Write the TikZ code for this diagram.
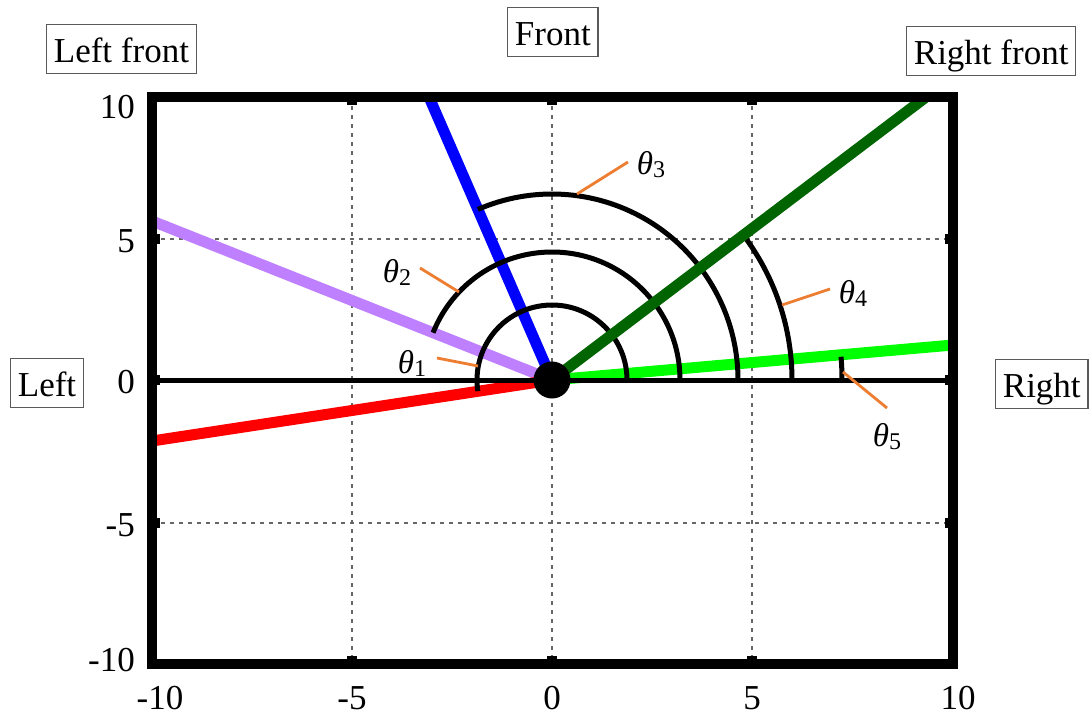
\documentclass[tikz,border=0pt]{standalone}
\usepackage{fontspec}
\setmainfont{Liberation Serif}
\definecolor{lav}{RGB}{191,128,255}
\definecolor{dgreen}{RGB}{0,100,0}
\definecolor{bgreen}{RGB}{0,255,0}
\definecolor{lead}{RGB}{237,125,49}
\definecolor{boxgray}{RGB}{90,90,90}
\newcommand{\thlab}[1]{{\fontsize{33}{35}\selectfont\itshape θ}{\fontsize{24}{26}\selectfont\raisebox{-3pt}{#1}}}
\begin{document}
\begin{tikzpicture}[x=1pt,y=-1pt,
  dirbox/.style={draw=boxgray,line width=1.2pt,fill=white,font=\fontsize{35}{40}\selectfont,
     inner xsep=7.3pt,inner ysep=0pt,text height=38pt,text depth=11pt,anchor=north west},
  ticklab/.style={font=\fontsize{35}{38}\selectfont,inner sep=0pt},
  gridline/.style={draw=black!60,line width=1.4pt,dash pattern=on 4pt off 5pt},
  ray/.style={line width=11pt},
  arcline/.style={line width=5pt,draw=black},
  leader/.style={draw=lead,line width=2.8pt},
  tickmark/.style={line width=10pt,draw=black},
  thetalab/.style={inner sep=0pt}]
\useasboundingbox (0,0) rectangle (1090,717);

% grid
\foreach \gx in {352,552,752} {\draw[gridline] (\gx,97) -- (\gx,664);}
\foreach \gy in {239,523} {\draw[gridline] (152,\gy) -- (953,\gy);}

% coordinates
\coordinate (O) at (552,380);
\coordinate (redend) at (152,441);
\coordinate (lavend) at (152,221);
\coordinate (blueend) at (429,97);
\coordinate (dgend) at (926,97);
\coordinate (bgend) at (953,345);
\coordinate (axL) at (152,380);
\coordinate (axR) at (953,380);

% rays
\draw[ray,draw=lav] (O) -- (lavend);
\draw[ray,draw=red] (O) -- (redend);
\draw[ray,draw=blue] (O) -- (blueend);
\draw[ray,draw=bgreen] (O) -- (bgend);
\draw[line width=5pt] (axL) -- (axR);

% arcs
\draw[arcline] (O) ++(75,0) arc[start angle=0,end angle=188.5,radius=75pt];
\draw[arcline] (O) ++(128,0) arc[start angle=0,end angle=158.3,radius=128pt];
\draw[arcline] (O) ++(186,0) arc[start angle=0,end angle=113.5,radius=186pt];
\draw[arcline] (O) ++(240,0) arc[start angle=0,end angle=36.5,radius=240pt];
\draw[arcline] (O) ++(290,0) arc[start angle=0,end angle=4.6,radius=290pt];

\draw[ray,draw=dgreen] (O) -- (dgend);
\fill[black] (O) circle[radius=18.5pt];

% frame
\draw[line width=10pt] (152,97) rectangle (953,664);
\foreach \gx in {352,552,752} {
  \draw[tickmark] (\gx,664) -- (\gx,656);
  \draw[tickmark] (\gx,97) -- (\gx,105);}
\foreach \gy in {239,380,523} {
  \draw[tickmark] (152,\gy) -- (160,\gy);
  \draw[tickmark] (953,\gy) -- (945,\gy);}

% tick labels
\node[ticklab,anchor=east] (y10) at (135,107) {10};
\node[ticklab,anchor=east] (y5) at (135,241) {5};
\node[ticklab,anchor=east] (y0) at (135,382) {0};
\node[ticklab,anchor=east] (ym5) at (135,525) {-5};
\node[ticklab,anchor=east] (ym10) at (135,660) {-10};
\node[ticklab] (xm10) at (160,698) {-10};
\node[ticklab] (xm5) at (352,698) {-5};
\node[ticklab] (x0) at (552,698) {0};
\node[ticklab] (x5) at (752,698) {5};
\node[ticklab] (x10) at (958,698) {10};

% direction boxes
\node[dirbox] (lf) at (46,24) {Left front};
\node[dirbox] (fr) at (507,7) {Front};
\node[dirbox] (rf) at (906,26) {Right front};
\node[dirbox] (le) at (10,358) {Left};
\node[dirbox] (ri) at (995,359) {Right};

% leaders
\coordinate (a1) at (478,366); \coordinate (b1) at (437,358);
\coordinate (a2) at (459,292); \coordinate (b2) at (420,268);
\coordinate (a3) at (577,194); \coordinate (b3) at (628,162);
\coordinate (a4) at (782,305); \coordinate (b4) at (830,289);
\coordinate (a5) at (843,372); \coordinate (b5) at (887,408);
\draw[leader] (a1) -- (b1);
\draw[leader] (a2) -- (b2);
\draw[leader] (a3) -- (b3);
\draw[leader] (a4) -- (b4);
\draw[leader] (a5) -- (b5);

\node[thetalab] (t1) at (412,363) {\thlab{1}};
\node[thetalab] (t2) at (397,272) {\thlab{2}};
\node[thetalab] (t3) at (651,165) {\thlab{3}};
\node[thetalab] (t4) at (853,293) {\thlab{4}};
\node[thetalab] (t5) at (887,437) {\thlab{5}};
\end{tikzpicture}
\end{document}
